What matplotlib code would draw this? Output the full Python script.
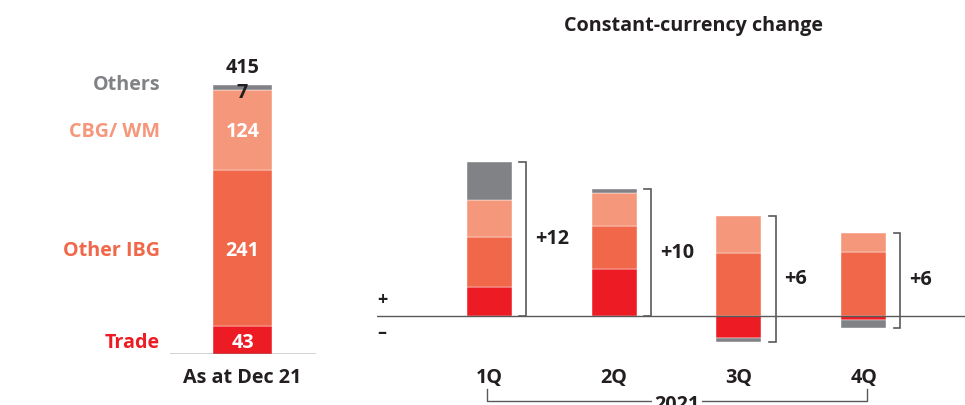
import matplotlib
matplotlib.use("Agg")
import matplotlib.pyplot as plt
from matplotlib.transforms import blended_transform_factory
import numpy as np

plt.rcParams['font.family'] = ['Open Sans', 'DejaVu Sans']

# ---- data -------------------------------------------------------------
segments = ["Trade", "Other IBG", "CBG/ WM", "Others"]
seg_colors = ["#ED1C24", "#F06749", "#F5977A", "#808285"]

dec21_values = [43, 241, 124, 7]
dec21_label = "As at Dec 21"

quarters = ["1Q", "2Q", "3Q", "4Q"]
year_label = "2021"
trade_chg = [2.3, 3.7, -1.7, -0.3]
other_ibg_chg = [3.9, 3.3, 4.9, 5.0]
cbg_wm_chg = [2.9, 2.6, 2.9, 1.5]
others_chg = [2.9, 0.3, -0.3, -0.65]

title = "Constant-currency change"

# ---- layout helpers ---------------------------------------------------
W, H = 965, 405
DARK = "#231F20"
LINE = "#58595B"
FS = 14.2


def fx(px):
    return px / W


def fy(py):
    return 1 - py / H


fig = plt.figure(figsize=(W / 100, H / 100), dpi=100)

# ---- left panel: outstanding stack ------------------------------------
left_scale = 0.648  # pixels per unit
axL = fig.add_axes([fx(170), fy(354), fx(316) - fx(170), (354 - 60) / H])
axL.set_ylim(0, 294 / left_scale)
axL.set_xlim(-0.737, 0.747)
axL.axis("off")
axL.axhline(0, color=DARK, lw=1.0)

bottom = 0
lab_tr = blended_transform_factory(fig.transFigure, axL.transData)
for name, val, col in zip(segments, dec21_values, seg_colors):
    axL.bar(0, val, 0.6, bottom=bottom, color=col, edgecolor="white", linewidth=0.3)
    mid = bottom + val / 2
    if name != "Others":
        axL.text(0, mid, str(val), ha="center", va="center_baseline",
                 color="white", fontsize=FS, fontweight="bold")
        lab_y = mid
    else:
        lab_y = bottom + 11
    axL.text(fx(160), lab_y, name, transform=lab_tr, ha="right",
             va="center_baseline", color=col, fontsize=FS, fontweight="bold")
    bottom += val

total = sum(dec21_values)
axL.annotate(str(dec21_values[-1]), (0, total), xytext=(0, -5.5),
             textcoords="offset points", ha="center", va="center",
             color=DARK, fontsize=FS, fontweight="bold")
axL.annotate(str(total), (0, total), xytext=(0, 12.5),
             textcoords="offset points", ha="center", va="center",
             color=DARK, fontsize=FS, fontweight="bold")
axL.text(0, fy(378), dec21_label, transform=blended_transform_factory(axL.transData, fig.transFigure),
         ha="center", va="center", color=DARK, fontsize=FS, fontweight="bold")

# ---- right panel: quarterly changes -----------------------------------
right_scale = 12.8  # pixels per unit
axR = fig.add_axes([fx(377), fy(360), 1 - fx(377), 300 / H])
axR.set_ylim(-44 / right_scale, 256 / right_scale)
axR.set_xlim(-0.902, 3.813)
axR.axis("off")

x = np.arange(len(quarters))
width = 0.361
series = [trade_chg, other_ibg_chg, cbg_wm_chg, others_chg]
pos_base = np.zeros(len(quarters))
neg_base = np.zeros(len(quarters))
for vals, col in zip(series, seg_colors):
    v = np.array(vals, dtype=float)
    base = np.where(v >= 0, pos_base, neg_base)
    axR.bar(x, v, width, bottom=base, color=col, edgecolor="white", linewidth=0.3, zorder=2)
    pos_base += np.clip(v, 0, None)
    neg_base += np.clip(v, None, 0)

axR.axhline(0, color="#58595B", lw=1.0, zorder=3)

net = pos_base + neg_base
for xi, top, bot, n in zip(x, pos_base, neg_base, net):
    bx = xi + 0.295
    axR.plot([bx - 0.055, bx, bx, bx - 0.055], [top, top, bot, bot],
             color=LINE, lw=1.2, zorder=4, solid_joinstyle="miter")
    axR.text(xi + 0.365, (top + bot) / 2, f"{int(round(n)):+d}", ha="left",
             va="center", color=DARK, fontsize=FS, fontweight="bold")

qtr_tr = blended_transform_factory(axR.transData, fig.transFigure)
for xi, q in zip(x, quarters):
    axR.text(xi, fy(378), q, transform=qtr_tr, ha="center", va="center",
             color=DARK, fontsize=FS, fontweight="bold")

# year bracket under the quarters
x0, x1 = x[0] - 0.02, x[-1] + 0.03
axR.plot([x0, x0, x1, x1], [fy(389), fy(401), fy(401), fy(389)],
         transform=qtr_tr, color=LINE, lw=1.0, clip_on=False)
axR.text((x0 + x1) / 2, fy(395), year_label, transform=qtr_tr, ha="center", va="top",
         color=DARK, fontsize=FS, fontweight="bold",
         bbox=dict(facecolor="white", edgecolor="none", pad=1.5))

# sign markers next to the zero line
fig.text(fx(382), fy(300), "+", ha="center", va="center", color=DARK,
         fontsize=13, fontweight="bold")
fig.text(fx(382), fy(333), "\u2013", ha="center", va="center", color=DARK,
         fontsize=13, fontweight="bold")

fig.text(fx(694), fy(26), title, ha="center", va="center", color=DARK,
         fontsize=FS, fontweight="bold")

fig.savefig("out.png", dpi=100)
